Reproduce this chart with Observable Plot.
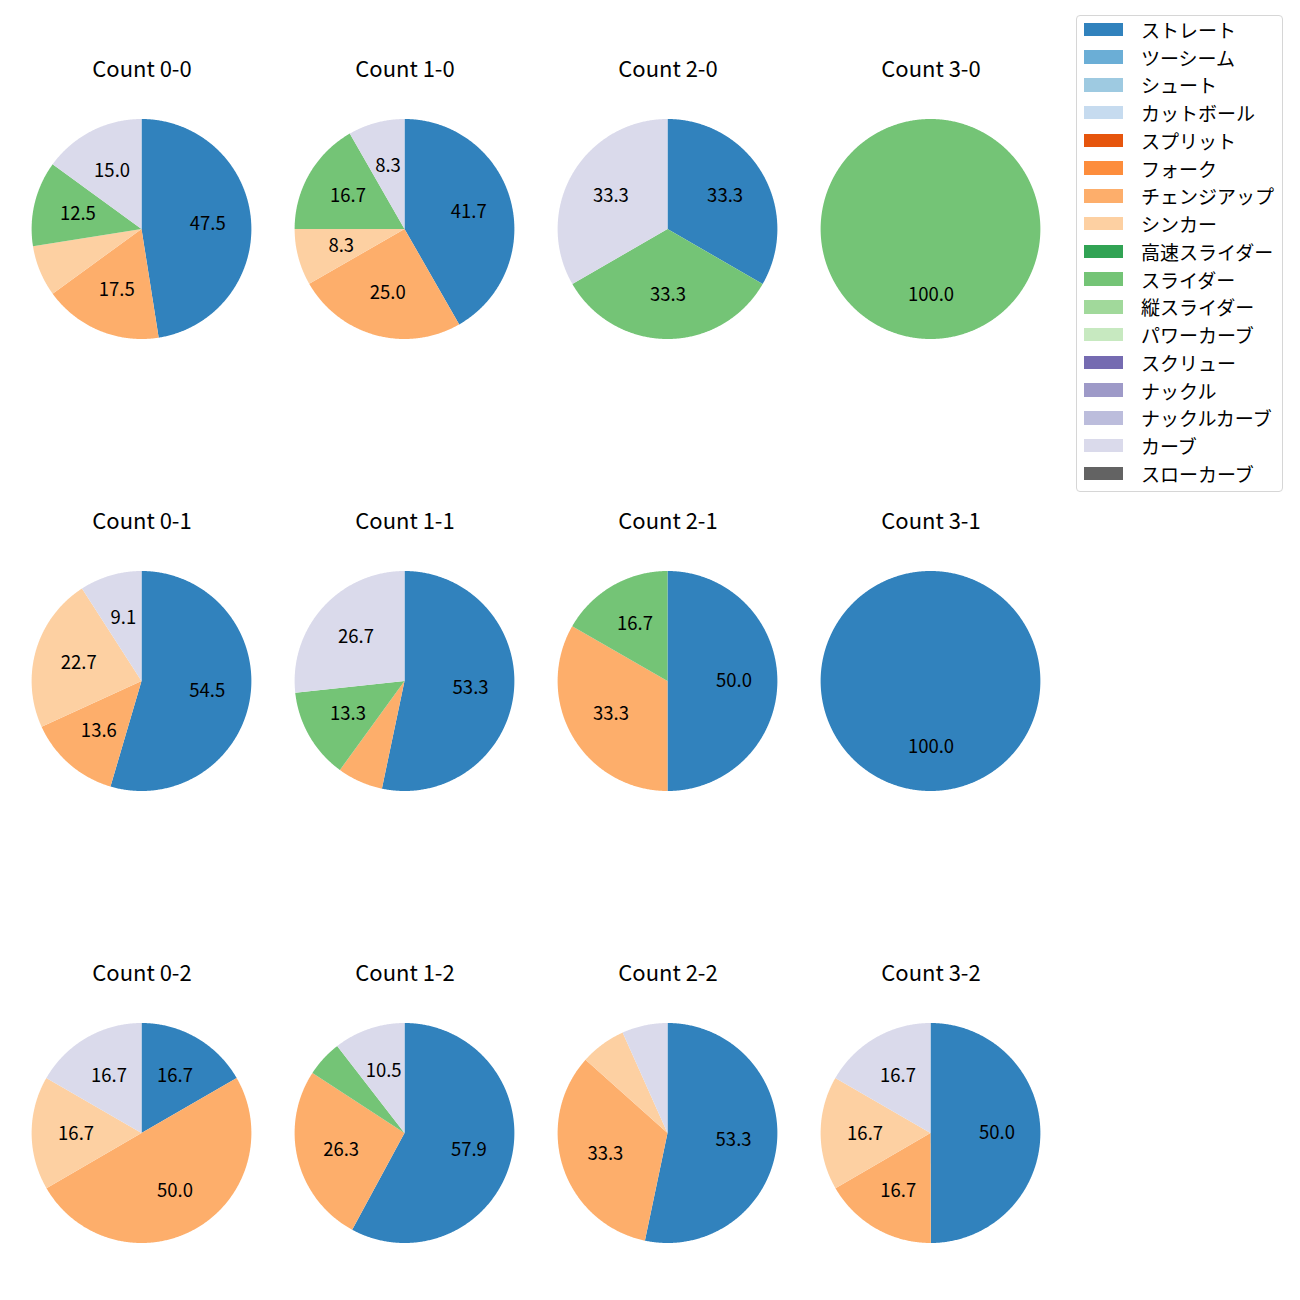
<!DOCTYPE html>
<html>
<head>
<meta charset="utf-8">
<script src="https://cdn.jsdelivr.net/npm/d3@7"></script>
<script src="https://cdn.jsdelivr.net/npm/@observablehq/plot@0.6"></script>
<style>
  body { margin: 0; background: #fff; }
  #wrap { position: relative; width: 1300px; height: 1300px; font-family: "Noto Sans CJK JP", "Noto Sans", sans-serif; }
  #wrap svg { position: absolute; left: 0; top: 0; }
  #legendBox { position: absolute; left: 1076px; top: 15px; width: 205px; height: 475px; border: 1px solid #d6d6d6; border-radius: 4px; background: rgba(255,255,255,0.8); }
  .row { position: absolute; left: 1084px; height: 20px; display: flex; align-items: center; }
  .sw { width: 39px; height: 13.5px; flex: none; }
  .lb { margin-left: 18px; font-size: 19px; color: #000; white-space: nowrap; }
</style>
</head>
<body>
<div id="wrap"><div id="legendBox"></div></div>
<script>
// Legend categories and colours (legend order)
const pitchTypes = ["ストレート","ツーシーム","シュート","カットボール","スプリット","フォーク","チェンジアップ","シンカー","高速スライダー","スライダー","縦スライダー","パワーカーブ","スクリュー","ナックル","ナックルカーブ","カーブ","スローカーブ"];
const pitchColors = ["#3182bd","#6baed6","#9ecae1","#c6dbef","#e6550d","#fd8d3c","#fdae6b","#fdd0a2","#31a354","#74c476","#a1d99b","#c7e9c0","#756bb1","#9e9ac8","#bcbddc","#dadaeb","#636363"];

// Pitch types that occur in the pies
const usedTypes = ["ストレート","チェンジアップ","シンカー","スライダー","カーブ"];

// Shares (%) per count "balls-strikes", aligned with usedTypes
const count00 = [47.5, 17.5, 7.5, 12.5, 15.0];
const count10 = [41.7, 25.0, 8.3, 16.7, 8.3];
const count20 = [33.3, 0, 0, 33.3, 33.3];
const count30 = [0, 0, 0, 100.0, 0];
const count01 = [54.5, 13.6, 22.7, 0, 9.1];
const count11 = [53.3, 6.7, 0, 13.3, 26.7];
const count21 = [50.0, 33.3, 0, 16.7, 0];
const count31 = [100.0, 0, 0, 0, 0];
const count02 = [16.7, 50.0, 16.7, 0, 16.7];
const count12 = [57.9, 26.3, 0, 5.3, 10.5];
const count22 = [53.3, 33.3, 6.7, 0, 6.7];
const count32 = [50.0, 16.7, 16.7, 0, 16.7];

const countNames = ["0-0","1-0","2-0","3-0","0-1","1-1","2-1","3-1","0-2","1-2","2-2","3-2"];
const countValues = [count00,count10,count20,count30,count01,count11,count21,count31,count02,count12,count22,count32];

const labelMin = 8; // autopct hides smaller shares

const wedges = [];
const labels = [];
const titles = [];
countNames.forEach((name, ci) => {
  const vals = countValues[ci];
  const [b, s] = name.split("-").map(Number);
  titles.push({b, s, text: "Count " + name});
  const total = d3.sum(vals);
  let acc = 0;
  vals.forEach((v, i) => {
    if (!v) return;
    const t0 = acc / total, t1 = (acc + v) / total;
    acc += v;
    const n = Math.max(2, Math.ceil((t1 - t0) * 720));
    for (let k = 0; k <= n; k++) {
      const t = t0 + (t1 - t0) * k / n;
      const a = Math.PI / 2 - 2 * Math.PI * t;
      wedges.push({b, s, key: name + ":" + i, pitch: usedTypes[i], x: Math.cos(a), y: Math.sin(a)});
    }
    if (v >= labelMin) {
      const a = Math.PI / 2 - Math.PI * (t0 + t1);
      labels.push({b, s, x: 0.6 * Math.cos(a), y: 0.6 * Math.sin(a), text: v.toFixed(1)});
    }
  });
});

const colStep = 263.3, rowStep = 452, radiusPx = 110;
const plot = Plot.plot({
  width: 1300,
  height: 1300,
  margin: 0,
  style: {fontFamily: '"Noto Sans CJK JP", "Noto Sans", sans-serif', background: "transparent", overflow: "visible"},
  fx: {domain: [0, 1, 2, 3], range: [9, 9 + 4 * colStep], padding: 0, axis: null},
  fy: {domain: [0, 1, 2], range: [3, 3 + 3 * rowStep], padding: 0, axis: null},
  x: {domain: [-colStep / 2 / radiusPx, colStep / 2 / radiusPx], axis: null},
  y: {domain: [-rowStep / 2 / radiusPx, rowStep / 2 / radiusPx], axis: null},
  color: {domain: pitchTypes, range: pitchColors},
  marks: [
    Plot.area(wedges, {fx: "b", fy: "s", x1: 0, y1: 0, x2: "x", y2: "y", z: "key", fill: "pitch", curve: "linear"}),
    Plot.text(labels, {fx: "b", fy: "s", x: "x", y: "y", text: "text", fontSize: 18.5, fill: "#000"}),
    Plot.text(titles, {fx: "b", fy: "s", x: 0, y: 160 / radiusPx, text: "text", fontSize: 22, fill: "#000"})
  ]
});
const wrap = document.getElementById("wrap");
wrap.insertBefore(plot, wrap.firstChild);

// Legend
pitchTypes.forEach((p, i) => {
  const row = document.createElement("div");
  row.className = "row";
  row.style.top = (29.3 + i * 27.75 - 10) + "px";
  const sw = document.createElement("div");
  sw.className = "sw";
  sw.style.background = pitchColors[i];
  const lb = document.createElement("div");
  lb.className = "lb";
  lb.textContent = p;
  row.appendChild(sw);
  row.appendChild(lb);
  wrap.appendChild(row);
});
</script>
</body>
</html>
